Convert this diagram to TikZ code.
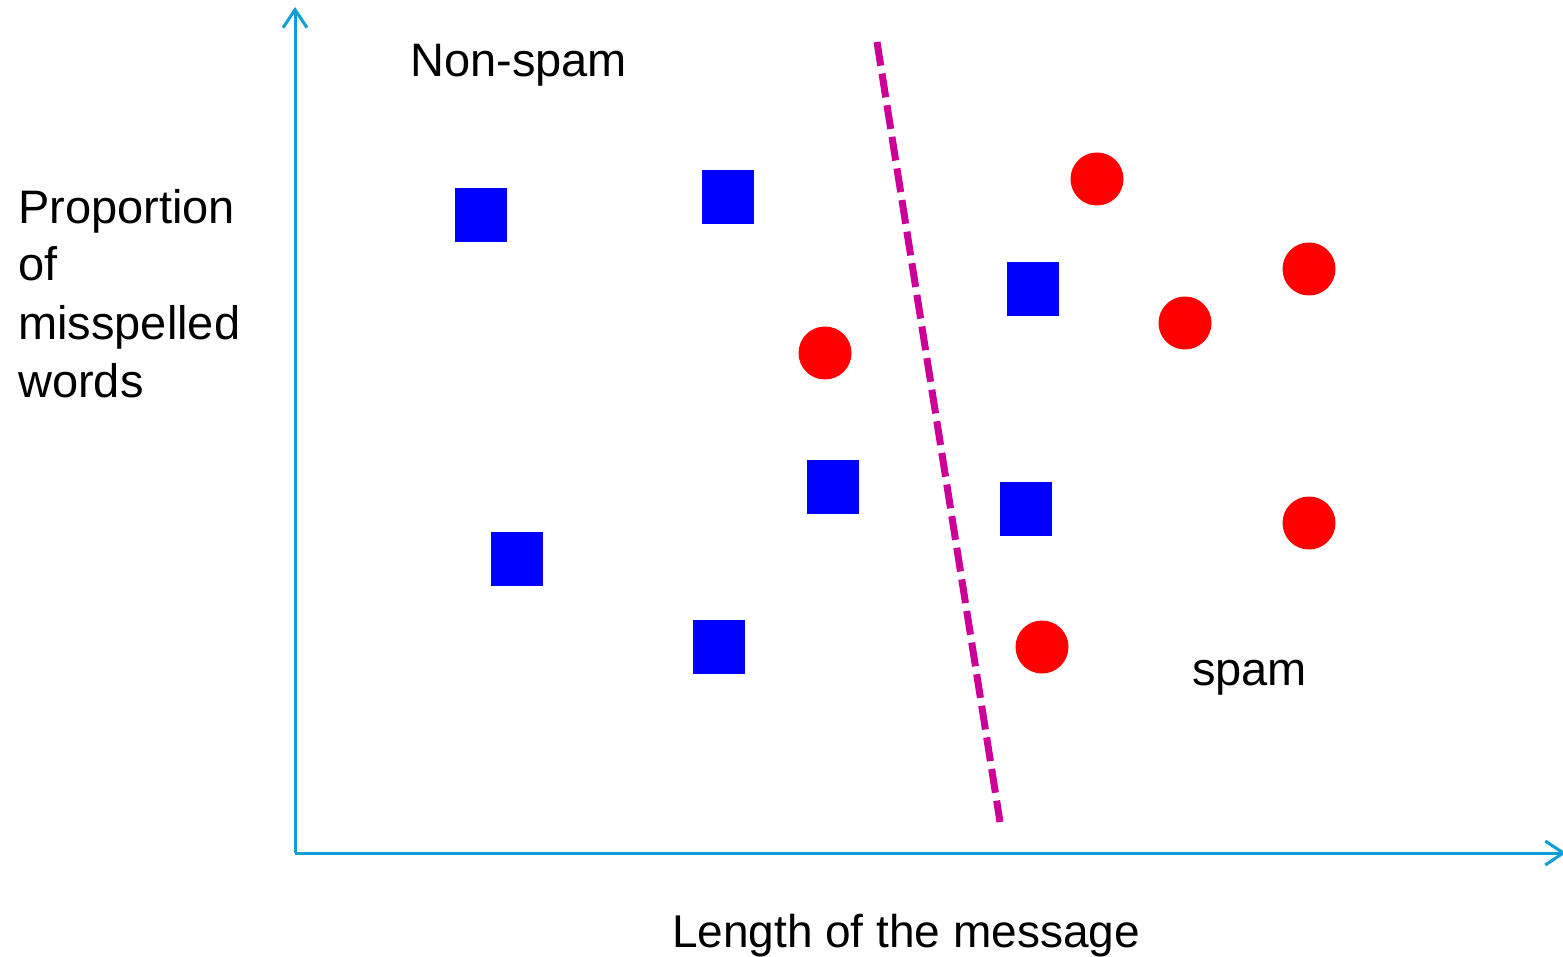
\documentclass[tikz,border=0pt]{standalone}
\usepackage{fontspec}
\setmainfont{Liberation Sans}
\usetikzlibrary{arrows.meta}
\definecolor{axisblue}{HTML}{0F9ED5}
\definecolor{sqblue}{HTML}{0000FF}
\definecolor{dotred}{HTML}{FF0000}
\definecolor{divmag}{HTML}{CC0099}
\tikzset{
  axisline/.style={draw=axisblue, line width=3pt, -{Straight Barb[length=18pt,width=24pt,line width=3pt]}},
  nonspam/.style={rectangle, fill=sqblue, minimum width=52pt, minimum height=54pt, inner sep=0pt},
  spampt/.style={circle, fill=dotred, minimum size=53pt, inner sep=0pt},
  divider/.style={draw=divmag, line width=7pt, dash pattern=on 24pt off 8pt},
  lbl/.style={font=\fontsize{47}{58}\selectfont, inner sep=0pt}
}
\begin{document}
\begin{tikzpicture}[x=1pt,y=-1pt]
\useasboundingbox (0,0) rectangle (1563,957);
\begin{scope}
\clip (0,0) rectangle (1563,957);
% axes
\coordinate (origin) at (295,853);
\coordinate (ytip) at (295,7);
\coordinate (xtip) at (1566,853);
\draw[axisline] (origin) -- (ytip);
\draw[axisline] (origin) -- (xtip);
\end{scope}
% divider
\coordinate (dtop) at (877,42);
\coordinate (dbot) at (1000,822);
\draw[divider] (dtop) -- (dbot);
% squares
\node[nonspam] (s1) at (481,215) {};
\node[nonspam] (s2) at (728,197) {};
\node[nonspam] (s3) at (1033,289) {};
\node[nonspam] (s4) at (833,487) {};
\node[nonspam] (s5) at (517,559) {};
\node[nonspam] (s6) at (719,647) {};
\node[nonspam] (s7) at (1026,509) {};
% circles
\node[spampt] (c1) at (1097,179) {};
\node[spampt] (c2) at (1309,269) {};
\node[spampt] (c3) at (1185,323) {};
\node[spampt] (c4) at (825,353) {};
\node[spampt] (c5) at (1309,523) {};
\node[spampt] (c6) at (1042,647) {};
% labels
\node[lbl, anchor=base west] (tnon) at (410,77) {Non-spam};
\node[lbl, anchor=base west] (tspam) at (1192,685) {spam};
\node[lbl, anchor=base, font=\fontsize{46}{58}\selectfont] (txlab) at (906,947) {Length of the message};
\node[lbl, anchor=base west, align=left] (tylab) at (18,397) {Proportion\\of\\misspelled\\words};
\end{tikzpicture}
\end{document}
